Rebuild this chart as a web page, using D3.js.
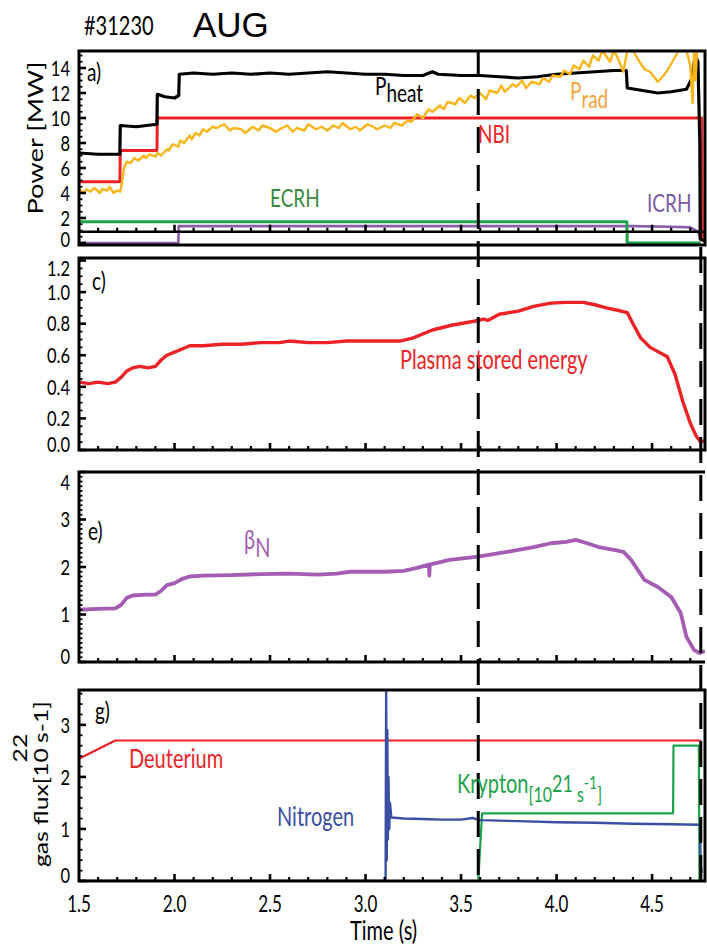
<!DOCTYPE html>
<html>
<head>
<meta charset="utf-8">
<script src="https://cdn.jsdelivr.net/npm/d3@7"></script>
<style>
  html, body { margin: 0; padding: 0; background: #fff; }
  svg { display: block; }
</style>
</head>
<body>
<svg id="chart" width="707" height="947"></svg>
<script>
// ---------------- data (time in s) ----------------
const timeDomain = [1.5, 4.777];
const timeTicks = [1.5, 2.0, 2.5, 3.0, 3.5, 4.0, 4.5];
const markerTimes = [3.59, 4.755];

// a) heating and radiated power [MW]
const pHeat = [[1.5,7.2],[1.6,7.1],[1.714,7.1],[1.716,9.4],[1.8,9.3],[1.908,9.5],[1.91,11.9],[1.95,11.7],[2.0,11.6],[2.022,11.8],
  [2.025,13.5],[2.1,13.6],[2.2,13.5],[2.3,13.6],[2.4,13.5],[2.5,13.6],[2.6,13.5],[2.7,13.6],[2.8,13.7],[2.9,13.6],[3.0,13.5],
  [3.1,13.5],[3.2,13.4],[3.3,13.4],[3.35,13.7],[3.38,13.5],[3.5,13.4],[3.6,13.4],[3.7,13.3],[3.8,13.2],[3.9,13.3],[4.0,13.5],
  [4.1,13.6],[4.2,13.7],[4.3,13.8],[4.365,13.8],[4.37,12.4],[4.45,12.2],[4.53,12.0],[4.6,12.1],[4.68,12.3],[4.71,13.2],
  [4.725,15.0],[4.74,14.5],[4.75,8.0],[4.752,0.3],[4.777,0.2]];
const pRad = [[1.5,4.4],[1.52,4.0],[1.54,4.3],[1.56,4.1],[1.58,4.4],[1.61,4.0],[1.62,4.3],[1.65,4.2],[1.66,4.5],[1.68,4.0],
  [1.7,4.2],[1.715,4.1],[1.725,4.8],[1.735,6.0],[1.75,6.5],[1.77,6.4],[1.79,6.8],[1.81,6.6],[1.84,7.0],[1.85,6.8],[1.87,7.1],
  [1.9,6.9],[1.91,7.2],[1.93,7.0],[1.96,7.5],[1.97,7.4],[1.99,7.9],[2.02,7.7],[2.03,8.2],[2.05,8.0],[2.08,8.6],[2.09,8.3],
  [2.11,8.8],[2.13,8.6],[2.15,9.1],[2.17,8.9],[2.2,9.3],[2.22,9.2],[2.26,9.5],[2.29,9.0],[2.31,9.2],[2.35,9.1],[2.37,8.8],
  [2.41,9.3],[2.44,9.0],[2.46,9.4],[2.5,9.2],[2.53,8.9],[2.55,9.1],[2.59,9.4],[2.62,8.9],[2.64,9.2],[2.68,9.0],[2.7,9.5],
  [2.74,9.1],[2.77,9.3],[2.8,9.0],[2.83,9.4],[2.86,9.2],[2.88,9.6],[2.92,9.1],[2.95,9.3],[2.97,9.0],[3.01,9.5],[3.04,9.3],
  [3.06,9.1],[3.1,9.4],[3.13,9.2],[3.15,9.6],[3.19,9.4],[3.22,9.8],[3.24,9.7],[3.27,10.3],[3.3,10.0],[3.33,10.7],[3.35,10.5],
  [3.39,11.0],[3.41,10.7],[3.43,11.3],[3.47,11.1],[3.49,11.6],[3.52,11.2],[3.55,11.8],[3.57,11.6],[3.6,12.0],[3.63,11.5],
  [3.65,12.2],[3.69,12.0],[3.71,12.6],[3.73,12.1],[3.77,12.7],[3.79,12.5],[3.82,13.0],[3.84,12.4],[3.87,12.9],[3.91,12.7],
  [3.93,13.2],[3.96,12.9],[3.98,13.4],[4.02,13.3],[4.04,13.8],[4.07,13.5],[4.09,14.2],[4.12,13.9],[4.14,14.6],[4.17,14.1],
  [4.19,15.0],[4.22,14.6],[4.24,15.4],[4.28,14.5],[4.3,15.4],[4.32,14.8],[4.35,13.7],[4.37,15.4],[4.4,15.4],[4.43,14.6],
  [4.46,13.9],[4.49,13.7],[4.53,12.9],[4.56,13.4],[4.58,13.8],[4.61,14.6],[4.64,15.4],[4.68,15.4],[4.7,14.2],[4.712,11.2],
  [4.72,15.4],[4.728,13.0],[4.735,15.4],[4.755,15.4]];
const pNbi = [[1.5,4.9],[1.714,4.9],[1.716,7.4],[1.908,7.4],[1.91,10.0],[4.76,10.0],[4.762,0.2],[4.777,0.2]];
const pEcrh = [[1.5,1.7],[4.368,1.7],[4.37,0.0],[4.755,0.0]];
const pIcrh = [[1.5,0.0],[2.02,0.0],[2.022,1.35],[4.4,1.35],[4.6,1.3],[4.7,1.25],[4.74,0.9],[4.755,0.4],[4.777,0.9]];

// c) plasma stored energy [MJ]
const wMhd = [[1.5,0.43],[1.55,0.42],[1.6,0.43],[1.65,0.42],[1.69,0.43],[1.72,0.46],[1.75,0.5],[1.78,0.52],[1.82,0.53],
  [1.86,0.52],[1.9,0.53],[1.93,0.57],[1.96,0.6],[2.0,0.62],[2.04,0.64],[2.08,0.66],[2.15,0.66],[2.25,0.67],[2.35,0.67],
  [2.45,0.68],[2.55,0.68],[2.6,0.69],[2.7,0.68],[2.8,0.68],[2.9,0.69],[3.0,0.69],[3.1,0.69],[3.18,0.69],[3.25,0.71],
  [3.35,0.76],[3.45,0.79],[3.59,0.82],[3.62,0.83],[3.64,0.82],[3.7,0.86],[3.8,0.88],[3.88,0.91],[3.97,0.93],[4.05,0.935],
  [4.14,0.935],[4.2,0.92],[4.26,0.9],[4.32,0.885],[4.37,0.87],[4.4,0.8],[4.44,0.71],[4.49,0.65],[4.58,0.59],[4.62,0.48],
  [4.66,0.31],[4.7,0.17],[4.73,0.09],[4.755,0.05],[4.777,0.06]];

// e) normalised beta
const betaN = [[1.5,1.1],[1.6,1.12],[1.69,1.13],[1.72,1.2],[1.75,1.35],[1.78,1.4],[1.85,1.42],[1.9,1.42],[1.93,1.5],
  [1.96,1.62],[2.0,1.66],[2.04,1.75],[2.08,1.8],[2.15,1.82],[2.3,1.83],[2.45,1.85],[2.6,1.86],[2.75,1.84],[2.85,1.86],
  [2.92,1.9],[3.0,1.9],[3.1,1.9],[3.2,1.92],[3.27,1.98],[3.332,2.05],[3.334,1.82],[3.336,2.05],[3.44,2.15],[3.59,2.22],
  [3.7,2.29],[3.8,2.36],[3.88,2.42],[3.97,2.5],[4.05,2.53],[4.1,2.57],[4.16,2.5],[4.22,2.42],[4.3,2.36],[4.35,2.32],
  [4.39,2.15],[4.46,1.73],[4.53,1.58],[4.6,1.37],[4.65,1.03],[4.68,0.53],[4.72,0.25],[4.75,0.19],[4.777,0.23]];

// g) gas fluxes [10^22 s-1] (krypton in 10^21 s-1)
const deuterium = [[1.5,2.35],[1.69,2.7],[4.755,2.7]];
const nitrogen = [[1.5,0.0],[3.105,0.0],[3.108,3.7],[3.111,0.4],[3.114,2.9],[3.117,0.8],[3.12,2.0],[3.124,1.0],[3.128,1.5],
  [3.135,1.22],[3.2,1.2],[3.3,1.19],[3.4,1.18],[3.5,1.18],[3.56,1.21],[3.6,1.17],[3.8,1.15],[4.0,1.13],[4.2,1.12],
  [4.4,1.1],[4.6,1.09],[4.75,1.08],[4.755,0.3],[4.76,0.15]];
const krypton = [[3.59,0.0],[3.61,1.3],[4.61,1.3],[4.612,2.6],[4.745,2.6],[4.748,0.0]];

// axis tick values
const powerTicks = [0, 2, 4, 6, 8, 10, 12, 14];
const energyTicks = [0.0, 0.2, 0.4, 0.6, 0.8, 1.0, 1.2];
const betaTicks = [0, 1, 2, 3, 4];
const fluxTicks = [0, 1, 2, 3];

// ---------------- layout ----------------
const FONT = "Lato, 'Open Sans', 'Noto Sans', sans-serif";
const SY = 1.3;                 // vertical stretch of lettering
const left = 79, right = 705;
const svg = d3.select("#chart");
const x = d3.scaleLinear().domain(timeDomain).range([left, right]);

const panels = [
  { id: "a", top: 51,  bottom: 245, domain: [-0.16, 15.36], ticks: powerTicks, minor: 0.5, fmt: d3.format("d"), axisValue: 0.9, rightEdge: true },
  { id: "c", top: 258, bottom: 450, domain: [0, 1.216], ticks: energyTicks, minor: 0.05, fmt: d3.format(".1f"), rightEdge: true },
  { id: "e", top: 472, bottom: 662, domain: [0, 4.0], ticks: betaTicks, minor: 0.1, fmt: d3.format("d"), rightEdge: false },
  { id: "g", top: 690, bottom: 881, domain: [0, 3.67], ticks: fluxTicks, minor: 0.2, fmt: d3.format("d"), rightEdge: true }
];
panels.forEach(p => { p.y = d3.scaleLinear().domain(p.domain).range([p.bottom, p.top]); });
const P = Object.fromEntries(panels.map(p => [p.id, p]));

const defs = svg.append("defs");
panels.forEach(p => {
  defs.append("clipPath").attr("id", "clip-" + p.id)
    .append("rect").attr("x", left).attr("y", p.top).attr("width", right - left).attr("height", p.bottom - p.top);
});

function text(g, xx, yy, str, o = {}) {
  const t = g.append("text")
    .attr("transform", `translate(${xx},${yy}) scale(1,${SY})`)
    .attr("font-family", o.font || FONT)
    .attr("font-size", o.size || 20)
    .attr("fill", o.color || "#000")
    .attr("text-anchor", o.anchor || "start");
  if (o.center) t.attr("dy", "0.36em");
  if (str != null) t.text(str);
  return t;
}

function trace(p, data, color, width) {
  const line = d3.line().x(d => x(d[0])).y(d => p.y(d[1]));
  svg.append("path").datum(data)
    .attr("clip-path", `url(#clip-${p.id})`)
    .attr("d", line)
    .attr("fill", "none")
    .attr("stroke", color)
    .attr("stroke-width", width)
    .attr("stroke-linejoin", "round");
}

// ---------------- traces ----------------
const RED = "#ec2227", GOLD = "#f9b51a", GREEN = "#1ba24b", PURPLE = "#8b5cab", VIOLET = "#a45db2", BLUE = "#3a4fa2";

trace(P.a, pIcrh, PURPLE, 2.6);
trace(P.a, pEcrh, GREEN, 3);
trace(P.a, pNbi, RED, 3);
trace(P.a, pHeat, "#000", 3.2);
trace(P.a, pRad, GOLD, 2.4);

trace(P.c, wMhd, RED, 3.4);
trace(P.e, betaN, VIOLET, 3.8);

trace(P.g, deuterium, RED, 2.2);
trace(P.g, krypton, GREEN, 2.2);
trace(P.g, nitrogen, BLUE, 2.4);

// ---------------- frames and ticks ----------------
const minorTimes = d3.range(16, 48).map(i => i / 10);
panels.forEach(p => {
  const g = svg.append("g");
  const pathStr = p.rightEdge
    ? `M${right},${p.top}H${left}V${p.bottom}H${right}Z`
    : `M${right},${p.top}H${left}V${p.bottom}H${right}`;
  g.append("path").attr("d", pathStr).attr("fill", "none").attr("stroke", "#000").attr("stroke-width", 3);

  // time ticks (inside, pointing up)
  const yb = p.axisValue != null ? p.y(p.axisValue) : p.bottom;
  if (p.axisValue != null) {
    g.append("line").attr("x1", left).attr("x2", right).attr("y1", yb).attr("y2", yb)
      .attr("stroke", "#000").attr("stroke-width", 2.6);
  }
  minorTimes.forEach(t => {
    const major = timeTicks.some(m => Math.abs(m - t) < 1e-6);
    g.append("line").attr("x1", x(t)).attr("x2", x(t)).attr("y1", yb).attr("y2", yb - (major ? 7 : 4))
      .attr("stroke", "#000").attr("stroke-width", major ? 2.6 : 2.2);
  });

  // value ticks (inside, pointing right)
  const [d0, d1] = p.domain;
  const first = Math.ceil(Math.max(d0, 0) / p.minor - 1e-6);
  const last = Math.floor(d1 / p.minor + 1e-6);
  for (let i = first; i <= last; i++) {
    const v = i * p.minor;
    const major = p.ticks.some(m => Math.abs(m - v) < 1e-6);
    const yy = p.y(v);
    g.append("line").attr("x1", left).attr("x2", left + (major ? 7 : 3.5)).attr("y1", yy).attr("y2", yy)
      .attr("stroke", "#000").attr("stroke-width", major ? 2.6 : 1.8);
  }
  p.ticks.forEach(v => {
    const yy = Math.max(p.top + 10, Math.min(p.bottom - 6, p.y(v)));
    text(g, 70, yy, p.fmt(v), { size: 16.5, anchor: "end", center: true });
  });
});

// time axis labels
timeTicks.forEach(t => text(svg, x(t), 904, d3.format(".1f")(t), { size: 17, anchor: "middle", center: true }));
text(svg, 350, 940, "Time (s)", { size: 20 });

// vertical event markers
svg.append("line").attr("x1", x(markerTimes[0])).attr("x2", x(markerTimes[0])).attr("y1", 51).attr("y2", 885)
  .attr("stroke", "#000").attr("stroke-width", 3).attr("stroke-dasharray", "26 12");
svg.append("line").attr("x1", x(markerTimes[1])).attr("x2", x(markerTimes[1])).attr("y1", 247).attr("y2", 885)
  .attr("stroke", "#000").attr("stroke-width", 3).attr("stroke-dasharray", "26 12");

// ---------------- titles and annotations ----------------
text(svg, 84, 35, "#31230", { size: 20 });
svg.append("text").attr("x", 193).attr("y", 37).attr("font-family", "'Liberation Sans', Arial, sans-serif")
  .attr("font-size", 35).attr("fill", "#000").text("AUG");

svg.append("text")
  .attr("transform", `translate(43,138) rotate(-90) scale(${SY},1)`)
  .attr("font-family", FONT).attr("font-size", 21).attr("text-anchor", "middle").attr("fill", "#000")
  .text("Power [MW]");

// rotated unit label with raised exponent
const flux = svg.append("text")
  .attr("transform", `translate(48,867) rotate(-90) scale(${SY},1)`)
  .attr("font-family", FONT).attr("font-size", 19).attr("fill", "#000");
flux.append("tspan").text("gas flux[10");
flux.append("tspan").attr("dx", -11).attr("dy", -21).text("22");
flux.append("tspan").attr("dx", -7).attr("dy", 21).text("s-1]");

text(svg, 87, 81, "a)", { size: 19 });
text(svg, 92, 290, "c)", { size: 19 });
text(svg, 88, 540, "e)", { size: 19 });
text(svg, 95, 720, "g)", { size: 19 });

const ph = text(svg, 375, 95, null, { size: 19 });
ph.append("tspan").text("P");
ph.append("tspan").attr("dy", 5.4).text("heat");
const pr = text(svg, 570, 100, null, { size: 19, color: "#f5a53c" });
pr.append("tspan").text("P");
pr.append("tspan").attr("dy", 6).text("rad");
text(svg, 478, 143, "NBI", { size: 19, color: RED });
text(svg, 270, 207, "ECRH", { size: 19, color: "#3a8a3e" });
text(svg, 647, 212, "ICRH", { size: 19, color: "#7a5aa8" });

text(svg, 400, 369, "Plasma stored energy", { size: 20, color: RED });

const bn = text(svg, 244, 549, null, { size: 20, color: VIOLET });
bn.append("tspan").text("β");
bn.append("tspan").attr("dy", 6).text("N");

text(svg, 129, 768, "Deuterium", { size: 20, color: RED });
text(svg, 277, 826, "Nitrogen", { size: 20, color: BLUE });
const kr = text(svg, 457, 793, null, { size: 20, color: GREEN });
kr.append("tspan").text("Krypton");
kr.append("tspan").attr("font-size", 16).attr("dy", 7).text("[10");
kr.append("tspan").attr("font-size", 18).attr("dy", -7.7).text("21");
kr.append("tspan").attr("font-size", 16).attr("dy", 7.7).text(" s");
kr.append("tspan").attr("font-size", 14).attr("dy", -10).text("-1");
kr.append("tspan").attr("font-size", 16).attr("dy", 10).text("]");
</script>
</body>
</html>
